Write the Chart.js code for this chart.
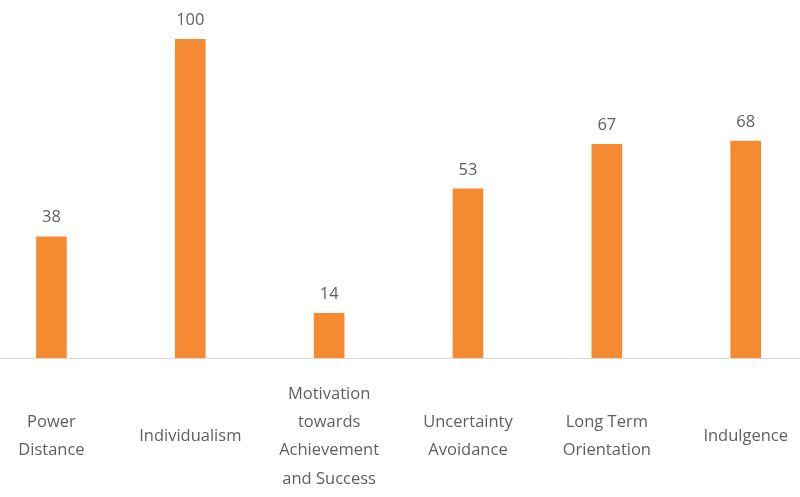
<!DOCTYPE html>
<html>
<head>
<meta charset="utf-8">
<script src="https://cdn.jsdelivr.net/npm/chart.js@4"></script>
<style>
  html, body { margin: 0; padding: 0; background: #fff; overflow: hidden; }
  #wrap { position: absolute; left: -18px; top: 0; width: 842px; height: 497px; }
</style>
</head>
<body>
<div id="wrap"><canvas id="dims-chart"></canvas></div>
<script>
// Chart data
const categories = [
    ['Power', 'Distance'],
    'Individualism',
    ['Motivation', 'towards', 'Achievement', 'and Success'],
    ['Uncertainty', 'Avoidance'],
    ['Long Term', 'Orientation'],
    'Indulgence'
];
const scores = [38, 100, 14, 53, 67, 68];

const BAR_COLOR = '#F58A33';
const TEXT_COLOR = '#5f5f5f';
const FONT = '"Open Sans", "Liberation Sans", sans-serif';

// Value labels above each bar
const valueLabels = {
    id: 'valueLabels',
    afterDatasetsDraw(chart) {
        const ctx = chart.ctx;
        const meta = chart.getDatasetMeta(0);
        ctx.save();
        ctx.font = '16.5px ' + FONT;
        ctx.fillStyle = TEXT_COLOR;
        ctx.textAlign = 'center';
        ctx.textBaseline = 'middle';
        meta.data.forEach((bar, i) => {
            ctx.fillText(String(scores[i]), bar.x, bar.y - 19);
        });
        ctx.restore();
    }
};

new Chart(document.getElementById('dims-chart'), {
    type: 'bar',
    data: {
        labels: categories,
        datasets: [{
            data: scores,
            backgroundColor: BAR_COLOR,
            barThickness: 30,
            borderWidth: 0
        }]
    },
    options: {
        responsive: true,
        maintainAspectRatio: false,
        animation: false,
        layout: { padding: { top: 39, left: 0, right: 0, bottom: 0 } },
        plugins: {
            legend: { display: false },
            tooltip: { enabled: false }
        },
        scales: {
            x: {
                grid: { display: false, drawTicks: false },
                border: { display: true, color: '#d9d9d9', width: 1 },
                ticks: {
                    color: TEXT_COLOR,
                    font: { family: FONT, size: 16.5, lineHeight: 1.72 },
                    padding: 36,
                    crossAlign: 'center',
                    maxRotation: 0,
                    autoSkip: false
                },
                afterFit(scale) { scale.height = 139; }
            },
            y: {
                display: false,
                min: 0,
                max: 100
            }
        }
    },
    plugins: [valueLabels]
});
</script>
</body>
</html>
